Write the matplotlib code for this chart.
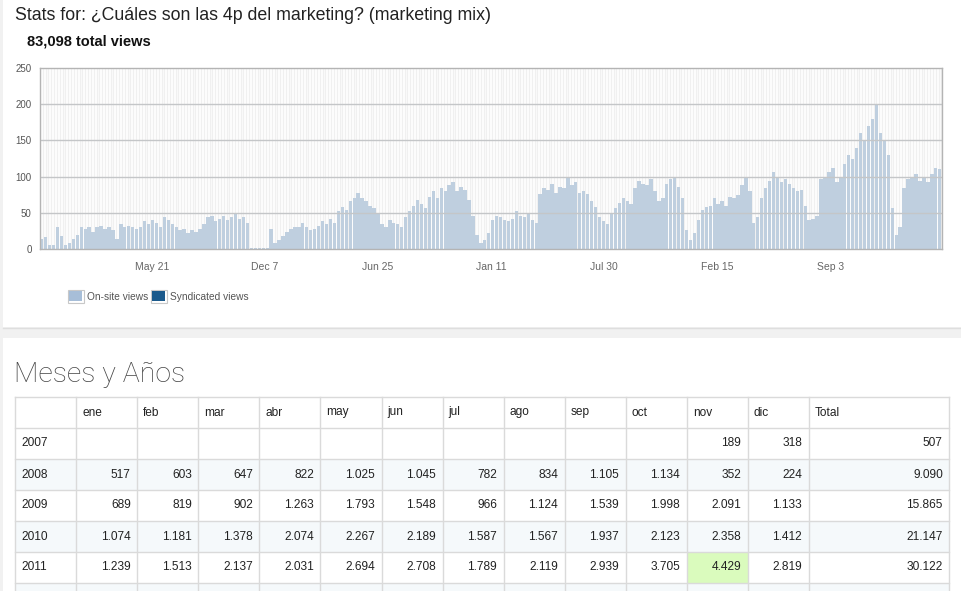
import matplotlib
matplotlib.use("Agg")
import matplotlib.pyplot as plt
import matplotlib.dates as mdates
from matplotlib.patches import Rectangle
import pandas as pd

plt.rcParams['font.family'] = ['Liberation Sans', 'DejaVu Sans']

W, H = 961, 591

title = "Stats for: ¿Cuáles son las 4p del marketing? (marketing mix)"
total_label = "83,098 total views"
section_title = "Meses y Años"

# weekly views, first week starting 2007-11-05
first_week = "2007-11-05"
last_day = "2012-03-19"
weekly_views = [
    14, 16, 5, 6, 30, 18, 6, 8, 14, 20,
    30, 28, 30, 24, 30, 32, 28, 30, 26, 14,
    34, 30, 32, 30, 28, 30, 38, 34, 40, 36,
    30, 44, 40, 34, 30, 26, 28, 22, 26, 24,
    28, 34, 44, 46, 38, 42, 46, 40, 44, 50,
    42, 44, 36, 2, 1, 1, 2, 1, 28, 8,
    12, 18, 24, 28, 30, 30, 36, 30, 26, 28,
    32, 38, 34, 42, 36, 52, 58, 54, 66, 70,
    78, 70, 66, 60, 56, 50, 34, 30, 40, 36,
    34, 30, 44, 52, 60, 68, 62, 56, 72, 80,
    70, 84, 80, 88, 92, 80, 86, 82, 68, 46,
    20, 8, 12, 22, 40, 46, 44, 40, 38, 42,
    52, 46, 44, 48, 40, 36, 76, 84, 82, 90,
    78, 86, 84, 100, 88, 92, 78, 80, 76, 66,
    58, 44, 38, 34, 48, 56, 64, 70, 66, 62,
    84, 94, 90, 88, 96, 80, 66, 70, 90, 96,
    100, 86, 70, 26, 12, 22, 40, 54, 58, 60,
    70, 62, 66, 60, 72, 70, 74, 88, 100, 80,
    36, 44, 70, 84, 94, 106, 98, 92, 96, 90,
    84, 80, 82, 60, 40, 42, 46, 96, 100, 106,
    112, 92, 100, 118, 130, 124, 140, 160, 150, 170,
    180, 200, 160, 150, 130, 56, 20, 30, 84, 96,
    100, 104, 94, 100, 92, 104, 112, 110,
]
tick_dates = ["2008-05-21", "2008-12-07", "2009-06-25", "2010-01-11",
              "2010-07-30", "2011-02-15", "2011-09-03"]
y_ticks = [0, 50, 100, 150, 200, 250]

legend_labels = ["On-site views", "Syndicated views"]
legend_colors = ["#a7bed8", "#1b5a8c"]

months = ["ene", "feb", "mar", "abr", "may", "jun",
          "jul", "ago", "sep", "oct", "nov", "dic"]
years = ["2007", "2008", "2009", "2010", "2011"]
views_2007 = [None] * 10 + [189, 318]
views_2008 = [517, 603, 647, 822, 1025, 1045, 782, 834, 1105, 1134, 352, 224]
views_2009 = [689, 819, 902, 1263, 1793, 1548, 966, 1124, 1539, 1998, 2091, 1133]
views_2010 = [1074, 1181, 1378, 2074, 2267, 2189, 1587, 1567, 1937, 2123, 2358, 1412]
views_2011 = [1239, 1513, 2137, 2031, 2694, 2708, 1789, 2119, 2939, 3705, 4429, 2819]
year_totals = [507, 9090, 15865, 21147, 30122]
monthly = [views_2007, views_2008, views_2009, views_2010, views_2011]


def fmt(v):
    return f"{v:,}".replace(",", ".")


fig = plt.figure(figsize=(W / 100, H / 100), dpi=100)
fig.patch.set_facecolor("white")

# page layer in pixel coordinates
bg = fig.add_axes([0, 0, 1, 1], zorder=0)
bg.set_xlim(0, W)
bg.set_ylim(H, 0)
bg.axis("off")

bg.add_patch(Rectangle((0, 0), 3, H, color="#f1f1f1", lw=0))
bg.add_patch(Rectangle((0, 327), W, 11, color="#f1f1f1", lw=0))
bg.plot([3, W], [327.5, 327.5], color="#dedede", lw=1)

bg.text(15, 15, title, fontsize=12.8, color="#222222", va="center", ha="left")
bg.text(27, 42, total_label, fontsize=10.5, fontweight="bold", color="#111111",
        va="center", ha="left")

# legend
lx = [67.5, 150.5]
tx = [87, 170.5]
for x0, t0, lab, col in zip(lx, tx, legend_labels, legend_colors):
    bg.add_patch(Rectangle((x0, 289.5), 16, 13, facecolor="white",
                           edgecolor="#c8c8c8", lw=0.8))
    bg.add_patch(Rectangle((x0 + 1.5, 291), 13, 10, facecolor=col, lw=0))
    bg.text(t0, 296.5, lab, fontsize=7.3, color="#555555", va="center", ha="left")

# chart
ax = fig.add_axes([40 / W, (H - 249) / H, (942 - 40) / W, (249 - 68) / H], zorder=2)
ax.set_facecolor("white")
week_dates = pd.date_range(first_week, periods=len(weekly_views), freq="7D")
stripes = pd.date_range(first_week, last_day, freq="5D")
ax.vlines(stripes, 0, 250, color="#f0f0f0", lw=1, zorder=0)
ax.bar(week_dates, weekly_views, width=6, align="edge", color="#bfcfdf",
       linewidth=0, zorder=2)
for yv in y_ticks[1:-1]:
    ax.axhline(yv, color="#c4c6c8", lw=1, zorder=3)
ax.set_xlim(pd.Timestamp(first_week), pd.Timestamp(last_day))
ax.set_ylim(0, 250)
ax.set_yticks(y_ticks)
ax.set_xticks(pd.to_datetime(tick_dates))
ax.xaxis.set_major_formatter(mdates.DateFormatter("%b %-d"))
ax.tick_params(axis="y", length=0, pad=6, labelsize=7, labelcolor="#555555")
ax.tick_params(axis="x", length=0, pad=9, labelsize=7.5, labelcolor="#666666")
for s in ax.spines.values():
    s.set_color("#b4b4b4")
    s.set_linewidth(1)
    s.set_zorder(4)

# section title
bg.text(14, 374, section_title, fontsize=20.5, color="#444444",
        family=["Roboto", "DejaVu Sans"], fontweight="light",
        va="center", ha="left")

# table
col_edges = [15, 76.3] + [76.3 + 61.04 * (i + 1) for i in range(12)] + [949.3]
row_edges = [397, 428, 459, 490, 521, 552, 583, 591]
tinted = [False, False, True, False, True, False, True]
for i in range(len(row_edges) - 1):
    if tinted[i]:
        bg.add_patch(Rectangle((col_edges[0], row_edges[i]),
                               col_edges[-1] - col_edges[0],
                               row_edges[i + 1] - row_edges[i],
                               color="#f5f9fb", lw=0))
# highlighted cell (nov 2011)
hi_col = 1 + months.index("nov")
hi_row = 1 + years.index("2011")
bg.add_patch(Rectangle((col_edges[hi_col], row_edges[hi_row]),
                       col_edges[hi_col + 1] - col_edges[hi_col],
                       row_edges[hi_row + 1] - row_edges[hi_row],
                       color="#dafbbd", lw=0))
for y in row_edges[:-1]:
    bg.plot([col_edges[0], col_edges[-1]], [y, y], color="#dadada", lw=1)
for x in col_edges:
    bg.plot([x, x], [row_edges[0], H], color="#dadada", lw=1)

txt_kw = dict(fontsize=8.6, color="#222222", va="center")
head_y = (row_edges[0] + row_edges[1]) / 2
for j, lab in enumerate(months + ["Total"]):
    bg.text(col_edges[j + 1] + 6, head_y, lab, ha="left", **txt_kw)
for i, (yr, vals, tot) in enumerate(zip(years, monthly, year_totals)):
    cy = (row_edges[i + 1] + row_edges[i + 2]) / 2
    bg.text(col_edges[0] + 6, cy, yr, ha="left", **txt_kw)
    for j, v in enumerate(vals):
        if v is not None:
            bg.text(col_edges[j + 2] - 6.5, cy, fmt(v), ha="right", **txt_kw)
    bg.text(col_edges[-1] - 6.5, cy, fmt(tot), ha="right", **txt_kw)

fig.savefig("out.png", dpi=100)
